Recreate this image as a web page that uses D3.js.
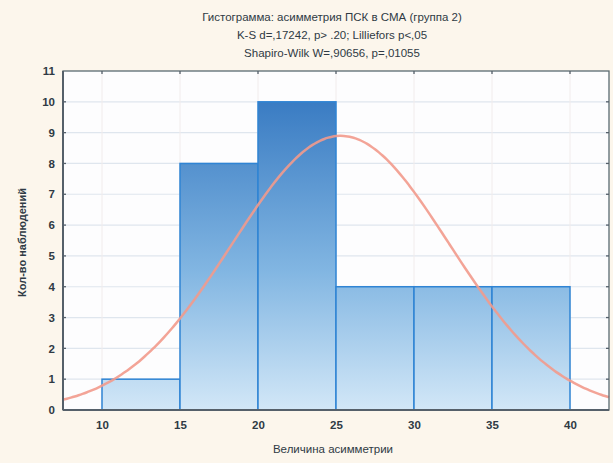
<!DOCTYPE html>
<html>
<head>
<meta charset="utf-8">
<script src="https://cdn.jsdelivr.net/npm/d3@7/dist/d3.min.js"></script>
<style>
  html, body { margin: 0; padding: 0; background: #fcf6ec; }
  svg { display: block; font-family: Arial, "Liberation Sans", sans-serif; }
</style>
</head>
<body>
<svg id="chart" width="613" height="463"></svg>
<script>
// Histogram bins (lower edge, upper edge) and observed counts
const binStarts = [10, 15, 20, 25, 30, 35];
const binEnds   = [15, 20, 25, 30, 35, 40];
const counts    = [1, 8, 10, 4, 4, 4];

// Axis ticks
const xTicks = [10, 15, 20, 25, 30, 35, 40];
const yTicks = [0, 1, 2, 3, 4, 5, 6, 7, 8, 9, 10, 11];

// Fitted normal curve parameters
const fitMean = 25.3;
const fitSd = 6.95;

const titleLines = [
  "Гистограмма: асимметрия ПСК в СМА (группа 2)",
  "K-S d=,17242, p> .20; Lilliefors p<,05",
  "Shapiro-Wilk W=,90656, p=,01055"
];
const xLabel = "Величина асимметрии";
const yLabel = "Кол-во наблюдений";

const svg = d3.select("#chart");
const W = 613, H = 463;
const m = { left: 63, right: 4, top: 71, bottom: 53 };
const x0 = m.left, x1 = W - m.right, y0 = H - m.bottom, y1 = m.top;

const x = d3.scaleLinear().domain([7.5, 42.5]).range([x0, x1]);
const y = d3.scaleLinear().domain([0, 11]).range([y0, y1]);

// page background
svg.append("rect").attr("width", W).attr("height", H).attr("fill", "#fcf6ec");

// plot area
svg.append("rect")
  .attr("x", x0).attr("y", y1).attr("width", x1 - x0).attr("height", y0 - y1)
  .attr("fill", "#fdfdfe");

// bar gradient, dark at the top of the scale, pale at the baseline
const defs = svg.append("defs");
const grad = defs.append("linearGradient")
  .attr("id", "barGrad")
  .attr("gradientUnits", "userSpaceOnUse")
  .attr("x1", 0).attr("x2", 0)
  .attr("y1", y(10)).attr("y2", y(0));
grad.append("stop").attr("offset", "0%").attr("stop-color", "#3a7cc3");
grad.append("stop").attr("offset", "55%").attr("stop-color", "#82b6e2");
grad.append("stop").attr("offset", "100%").attr("stop-color", "#d2e7f7");

// horizontal grid
svg.append("g")
  .selectAll("line")
  .data(yTicks.filter(d => d > 0 && d < 11))
  .join("line")
  .attr("x1", x0).attr("x2", x1)
  .attr("y1", d => y(d)).attr("y2", d => y(d))
  .attr("stroke", "#dfe6ee").attr("stroke-width", 1.2);

// vertical grid
svg.append("g")
  .selectAll("line")
  .data(xTicks)
  .join("line")
  .attr("x1", d => x(d)).attr("x2", d => x(d))
  .attr("y1", y1).attr("y2", y0)
  .attr("stroke", "#f1ecec").attr("stroke-width", 1);

// bars
const bins = counts.map((c, i) => ({ a: binStarts[i], b: binEnds[i], c }));
svg.append("g")
  .selectAll("rect")
  .data(bins)
  .join("rect")
  .attr("x", d => x(d.a))
  .attr("y", d => y(d.c))
  .attr("width", d => x(d.b) - x(d.a))
  .attr("height", d => y(0) - y(d.c))
  .attr("fill", "url(#barGrad)")
  .attr("stroke", "#2f84d4")
  .attr("stroke-width", 1.5);

// fitted normal curve in count units (N * bin width * density)
const N = d3.sum(counts);
const binWidth = binEnds[0] - binStarts[0];
const expected = t => N * binWidth * Math.exp(-0.5 * ((t - fitMean) / fitSd) ** 2) / (fitSd * Math.sqrt(2 * Math.PI));
const curveX = d3.range(7.5, 42.51, 0.25);
svg.append("path")
  .datum(curveX)
  .attr("fill", "none")
  .attr("stroke", "#f29a8c")
  .attr("stroke-width", 2.5)
  .attr("stroke-opacity", 0.9)
  .attr("d", d3.line().x(t => x(t)).y(t => y(expected(t))).curve(d3.curveBasis));

// frame
svg.append("rect")
  .attr("x", x0).attr("y", y1).attr("width", x1 - x0).attr("height", y0 - y1)
  .attr("fill", "none").attr("stroke", "#5a6a70").attr("stroke-width", 1.3);
svg.append("line")
  .attr("x1", x0).attr("x2", x1).attr("y1", y0).attr("y2", y0)
  .attr("stroke", "#55606a").attr("stroke-width", 2.2);
svg.append("line")
  .attr("x1", x0).attr("x2", x0).attr("y1", y1).attr("y2", y0)
  .attr("stroke", "#55606a").attr("stroke-width", 2);

// axes
const xAxis = svg.append("g")
  .attr("transform", `translate(0,${y0})`)
  .call(d3.axisBottom(x).tickValues(xTicks).tickSize(0).tickPadding(11));
const yAxis = svg.append("g")
  .attr("transform", `translate(${x0},0)`)
  .call(d3.axisLeft(y).tickValues(yTicks).tickSize(0).tickPadding(8));
[xAxis, yAxis].forEach(g => {
  g.select(".domain").remove();
  g.selectAll("text")
    .attr("fill", "#2f3a44")
    .attr("font-size", "11.5px")
    .attr("font-weight", "bold")
    .attr("font-family", "Arial, 'Liberation Sans', sans-serif");
});

// small tick marks on the right and top frame edges
svg.append("g").selectAll("line")
  .data(yTicks.filter(d => d > 0 && d < 11))
  .join("line")
  .attr("x1", x1 - 3).attr("x2", x1)
  .attr("y1", d => y(d)).attr("y2", d => y(d))
  .attr("stroke", "#55606a").attr("stroke-width", 1.3);
svg.append("g").selectAll("line")
  .data(yTicks.filter(d => d > 0 && d < 11))
  .join("line")
  .attr("x1", x0).attr("x2", x0 + 3)
  .attr("y1", d => y(d)).attr("y2", d => y(d))
  .attr("stroke", "#55606a").attr("stroke-width", 1.3);
svg.append("g").selectAll("line")
  .data(xTicks)
  .join("line")
  .attr("x1", d => x(d)).attr("x2", d => x(d))
  .attr("y1", y1).attr("y2", y1 + 3)
  .attr("stroke", "#55606a").attr("stroke-width", 1.3);

// title
svg.append("g").selectAll("text")
  .data(titleLines)
  .join("text")
  .attr("x", 332)
  .attr("y", (d, i) => 21 + i * 18)
  .attr("text-anchor", "middle")
  .attr("font-size", "11.5px")
  .attr("fill", "#2f3a44")
  .text(d => d);

// axis titles
svg.append("text")
  .attr("x", 333).attr("y", 453)
  .attr("text-anchor", "middle")
  .attr("font-size", "11.5px")
  .attr("fill", "#2f3a44")
  .text(xLabel);
svg.append("text")
  .attr("transform", `translate(26,${(y0 + y1) / 2 + 2}) rotate(-90)`)
  .attr("text-anchor", "middle")
  .attr("font-size", "11px")
  .attr("font-weight", "bold")
  .attr("fill", "#2f3a44")
  .text(yLabel);
</script>
</body>
</html>
